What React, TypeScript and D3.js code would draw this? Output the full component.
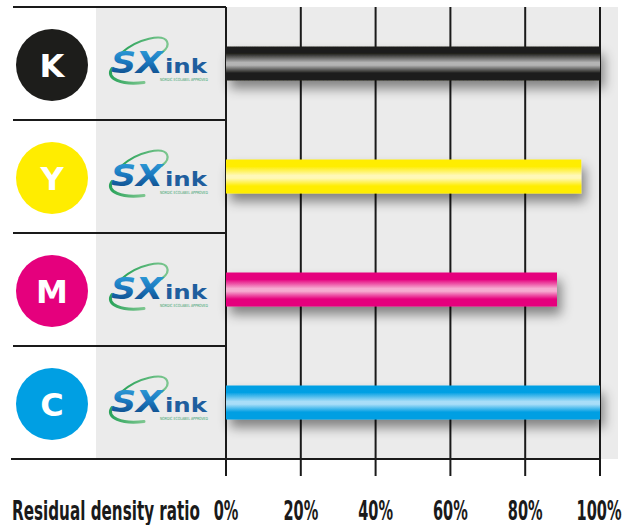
import React from "react";
import * as d3 from "d3";

// ink channels, top to bottom
const inks = ["K", "Y", "M", "C"];
// residual density ratio, %
const ratios = [100, 95, 88.5, 100];
const ticks = [0, 20, 40, 60, 80, 100];
const inkColors = ["#1d1d1b", "#ffed00", "#e5007d", "#009fe3"];
const glossColors = ["#b4b4b4", "#fff8b8", "#f6acd1", "#a9def8"];

const W = 622, H = 525;
const LINE = "#1a1a1a";
const FONT = "'DejaVu Sans', sans-serif";
const SQUEEZE = 0.56; // condensed look for the axis texts

const Logo: React.FC<{ id: string }> = ({ id }) => (
  <g>
    <path d="M -14,19 C -36,22 -53,15 -46,5" fill="none" stroke={`url(#swoosh-${id})`} strokeWidth={3} strokeLinecap="round" />
    <path d="M -36,-11 C -20,-25 5,-30 9,-22 C 11,-18 8,-14 4,-11" fill="none" stroke={`url(#swoosh-${id})`} strokeWidth={2.2} strokeLinecap="round" />
    <text x={-47} y={9} fontFamily={FONT} fontWeight="bold" fontStyle="italic" fontSize={30}
      textLength={52} lengthAdjust="spacingAndGlyphs" fill={`url(#sx-${id})`}>SX</text>
    <text x={7} y={9} fontFamily={FONT} fontWeight="bold" fontSize={19}
      textLength={42} lengthAdjust="spacingAndGlyphs" fill="#1f5e9e">ink</text>
    <text x={2} y={17} fontFamily={FONT} fontSize={4.3}
      textLength={48} lengthAdjust="spacingAndGlyphs" fill="#3aa36c">NORDIC ECOLABEL APPROVED</text>
  </g>
);

const App: React.FC = () => {
  const x = d3.scaleLinear().domain([0, 100]).range([226, 600]);
  const y = d3.scaleBand<string>().domain(inks).range([7, 459]);
  const barH = 34;
  const [x0, x1] = x.range();
  const [y0, y1] = y.range();

  return (
    <svg width={W} height={H} style={{ position: "absolute", left: 0, top: 0 }}>
      <defs>
        <filter id="shadow" x="-10%" y="-50%" width="120%" height="250%">
          <feDropShadow dx={4} dy={8} stdDeviation={6} floodColor="#000" floodOpacity={0.45} />
        </filter>
        {inks.map((k, i) => (
          <linearGradient key={k} id={`bar-${k}`} x1="0" y1="0" x2="0" y2="1">
            <stop offset="0" stopColor={inkColors[i]} />
            <stop offset="0.2" stopColor={inkColors[i]} />
            <stop offset="0.47" stopColor={glossColors[i]} />
            <stop offset="0.55" stopColor={glossColors[i]} />
            <stop offset="0.78" stopColor={inkColors[i]} />
            <stop offset="1" stopColor={inkColors[i]} />
          </linearGradient>
        ))}
        {inks.map(k => (
          <linearGradient key={k} id={`sx-${k}`} x1="0" y1="0" x2="0" y2="1">
            <stop offset="0" stopColor="#35a8e0" />
            <stop offset="0.5" stopColor="#1a78bf" />
            <stop offset="1" stopColor="#0d3f7a" />
          </linearGradient>
        ))}
        {inks.map(k => (
          <linearGradient key={k} id={`swoosh-${k}`} x1="0" y1="0" x2="1" y2="0">
            <stop offset="0" stopColor="#2aa35a" />
            <stop offset="1" stopColor="#7cc68f" />
          </linearGradient>
        ))}
      </defs>

      <rect x={96} y={y0} width={618 - 96} height={y1 - y0} fill="#ebebeb" />

      {/* row separators on the left, axis line at the bottom */}
      {[...inks.map(k => y(k) as number), y1].map((v, i) => (
        <line key={i} x1={i === inks.length ? 11 : 13} x2={i === inks.length ? x1 : x0} y1={v} y2={v} stroke={LINE} strokeWidth={2} />
      ))}

      {/* vertical grid + ticks */}
      {ticks.map(t => (
        <line key={t} x1={x(t)} x2={x(t)} y1={y0} y2={476} stroke={LINE} strokeWidth={2} />
      ))}

      {inks.map((k, i) => {
        const cy = (y(k) as number) + y.bandwidth() / 2;
        return (
          <g key={k}>
            <circle cx={52} cy={cy + 1.5} r={36} fill={inkColors[i]} />
            <text x={52} y={cy + 1.5} dy="0.36em" textAnchor="middle" fontFamily={FONT} fontWeight="bold"
              fontSize={32} fill="#fff">{k}</text>
            <g transform={`translate(158,${cy})`}>
              <Logo id={k} />
            </g>
            <rect x={x(0)} y={cy - barH / 2} width={x(ratios[i]) - x(0)} height={barH}
              fill={`url(#bar-${k})`} filter="url(#shadow)" />
          </g>
        );
      })}

      <text transform={`translate(12,520) scale(${SQUEEZE},1)`} fontFamily={FONT} fontWeight="bold" fontSize={26}
        textLength={188 / SQUEEZE} lengthAdjust="spacingAndGlyphs" fill="#1a1a1a">Residual density ratio</text>
      {ticks.map(t => (
        <text key={t} transform={`translate(${t === 100 ? x(t) - 1 : x(t)},520) scale(${SQUEEZE},1)`} textAnchor="middle"
          fontFamily={FONT} fontWeight="bold" fontSize={26} fill="#1a1a1a">{`${t}%`}</text>
      ))}
    </svg>
  );
};

export default App;
